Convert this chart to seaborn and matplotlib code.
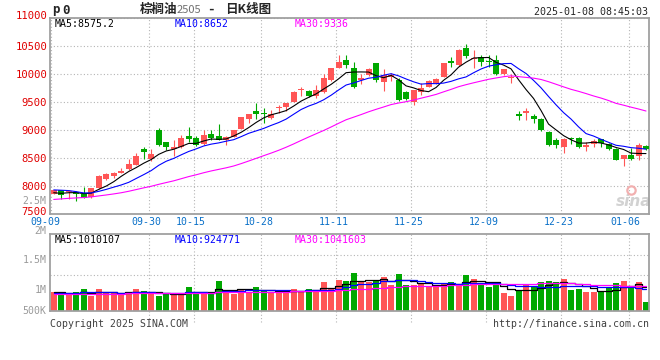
import numpy as np
import pandas as pd
import matplotlib
matplotlib.use('Agg')
import matplotlib.pyplot as plt
import matplotlib.transforms as mtransforms
import seaborn as sns

# daily OHLC, 2024-09-09 .. 2025-01-08 (80 trading days)
opens = [7860, 7925, 7890, 7895, 7850, 7795, 7960, 8120, 8170, 8240,
         8300, 8375, 8655, 8490, 9000, 8780, 8660, 8690, 8890, 8860,
         8745, 8925, 8900, 8820, 8880, 9020, 9195, 9340, 9300, 9220,
         9387, 9417, 9506, 9708, 9696, 9613, 9673, 9893, 10113, 10250,
         10101, 9900, 9982, 10190, 9863, 9940, 9893, 9672, 9506, 9684,
         9774, 9833, 9952, 10232, 10160, 10458, 10270, 10310, 10240, 10250,
         9994, 9930, 9286, 9310, 9250, 9202, 8970, 8820, 8702, 8851,
         8851, 8702, 8750, 8833, 8744, 8660, 8490, 8554, 8536, 8714]
highs = [7935, 7930, 7930, 7905, 7990, 7965, 8190, 8225, 8250, 8315,
         8480, 8585, 8690, 8665, 9040, 8790, 8820, 8910, 9045, 8890,
         9000, 9000, 9105, 8885, 9005, 9240, 9290, 9490, 9385, 9355,
         9445, 9490, 9690, 9775, 9720, 9800, 9995, 10110, 10340, 10340,
         10220, 10000, 10110, 10200, 10083, 10012, 9920, 9690, 9720, 9833,
         9900, 9920, 10195, 10310, 10440, 10535, 10428, 10340, 10340, 10340,
         10090, 10000, 9345, 9400, 9286, 9215, 8980, 8851, 8850, 8870,
         8880, 8792, 8840, 8840, 8760, 8670, 8560, 8673, 8774, 8732]
lows = [7850, 7770, 7770, 7730, 7780, 7785, 7955, 8110, 8150, 8225,
        8290, 8370, 8480, 8440, 8710, 8640, 8530, 8670, 8790, 8715,
        8725, 8820, 8815, 8735, 8870, 9010, 9120, 9195, 9120, 9195,
        9310, 9340, 9500, 9615, 9595, 9580, 9665, 9880, 10100, 10100,
        9756, 9830, 9970, 9850, 9702, 9880, 9524, 9530, 9446, 9625,
        9760, 9820, 9940, 10130, 10150, 10280, 10100, 10143, 10130, 9982,
        9980, 9845, 9180, 9180, 9130, 8990, 8720, 8673, 8583, 8744,
        8673, 8631, 8700, 8690, 8650, 8460, 8360, 8470, 8464, 8643]
closes = [7920, 7845, 7915, 7850, 7790, 7960, 8185, 8210, 8240, 8270,
          8390, 8535, 8600, 8570, 8730, 8690, 8690, 8850, 8840, 8735,
          8905, 8865, 8820, 8875, 9000, 9235, 9285, 9280, 9280, 9280,
          9405, 9488, 9684, 9726, 9613, 9714, 9923, 10100, 10220, 10160,
          9774, 9930, 10089, 9893, 9982, 9982, 9535, 9547, 9714, 9744,
          9881, 9910, 10190, 10202, 10428, 10327, 10280, 10220, 10220, 9994,
          10083, 9940, 9250, 9345, 9202, 9000, 8732, 8732, 8833, 8833,
          8702, 8732, 8810, 8762, 8667, 8470, 8555, 8482, 8730, 8660]
# volume in thousands
vol_k = [972, 927, 927, 961, 1017, 903, 1017, 944, 944, 935,
         966, 1017, 983, 944, 898, 927, 944, 944, 1057, 944,
         944, 972, 1153, 1000, 927, 1017, 971, 1051, 1000, 961,
         961, 961, 1017, 983, 1017, 1000, 1130, 1039, 1169, 1153,
         1294, 1130, 1141, 1169, 1220, 1085, 1270, 1085, 1085, 1100,
         1057, 1057, 1124, 1135, 1096, 1254, 1186, 1085, 1051, 1085,
         949, 898, 1000, 1100, 1057, 1135, 1153, 1135, 1186, 1000,
         1017, 966, 966, 966, 1030, 1113, 1153, 1068, 1136, 797]
# estimated closes / volumes before the window (only feed the moving averages)
prev_closes = [7560, 7600, 7640, 7580, 7620, 7660, 7700, 7680, 7640, 7600,
               7620, 7680, 7720, 7700, 7740, 7760, 7720, 7700, 7760, 7820,
               7900, 7980, 8040, 8020, 7960, 7900, 7860, 7840, 7880]
prev_vol_k = [900, 950, 880, 920, 970, 910, 890, 940, 960, 900,
              930, 880, 920, 950, 910, 900, 940, 970, 920, 860,
              930, 950, 920, 940, 910, 970, 960, 980, 970]

holidays = ['2024-09-16', '2024-09-17', '2024-10-01', '2024-10-02', '2024-10-03',
            '2024-10-04', '2024-10-07', '2025-01-01']
tick_dates = ['09-09', '09-30', '10-15', '10-28', '11-11', '11-25', '12-09', '12-23', '01-06']
price_ticks = [7500, 8000, 8500, 9000, 9500, 10000, 10500, 11000]

days = [d for d in pd.bdate_range('2024-09-09', '2025-01-08') if d.strftime('%Y-%m-%d') not in holidays]
day_labels = [d.strftime('%m-%d') for d in days]

df = pd.DataFrame({'day': np.arange(len(closes)), 'open': opens, 'high': highs,
                   'low': lows, 'close': closes, 'volume': np.array(vol_k) * 1000})
all_close = pd.Series(prev_closes + closes)
all_vol = pd.Series(prev_vol_k + vol_k) * 1000
for n in (5, 10, 30):
    df['ma%d' % n] = all_close.rolling(n).mean().iloc[len(prev_closes):].to_numpy()
    df['vma%d' % n] = all_vol.rolling(n).mean().iloc[len(prev_vol_k):].to_numpy()

RED = '#ff5656'
GREEN = '#00a800'
GRID = '#b4b4b4'
BORDER = '#a0a0a0'
MONO = 'DejaVu Sans Mono'
CJK = ['Noto Sans CJK SC', 'DejaVu Sans']

sns.set_style('white')
plt.rcParams['font.family'] = [MONO]

W, H = 660, 360
fig = plt.figure(figsize=(6.6, 3.6), dpi=100)
fig.patch.set_facecolor('white')


def fx(px):
    return px / W


def fy(py):
    return 1 - py / H


def shift(label, dx, dy):
    # move a text by pixels (dy positive = up)
    label.set_transform(label.get_transform() +
                        mtransforms.ScaledTranslation(dx / 100, dy / 100, fig.dpi_scale_trans))


ax = fig.add_axes([fx(50), fy(214), 599 / W, 196 / H])
ax2 = fig.add_axes([fx(50), fy(311), 599 / W, 77 / H])

colors = [RED if c >= o else GREEN for o, c in zip(df.open, df.close)]
tick_pos = [day_labels.index(t) - 0.3 for t in tick_dates]

# --- price panel
ax.vlines(df.day, df.low, df.high, colors=colors, lw=0.8, zorder=3)
body = np.maximum((df.close - df.open).abs(), 12)
ax.bar(df.day, body, bottom=np.minimum(df.open, df.close), width=0.8,
       color=colors, linewidth=0, zorder=4)
sns.lineplot(data=df, x='day', y='ma5', color='black', lw=0.8, ax=ax, zorder=5)
sns.lineplot(data=df, x='day', y='ma10', color='#0000ff', lw=0.8, ax=ax, zorder=5)
sns.lineplot(data=df, x='day', y='ma30', color='#ff00ff', lw=0.8, ax=ax, zorder=5)
ax.set_xlim(-0.5, 79.4)
ax.set_ylim(7500, 11000)
ax.set_yticks(price_ticks)
ax.set_yticklabels([str(v) for v in price_ticks], color='#e00000', fontsize=7.6)
ax.set_xticks(tick_pos)
ax.set_xticklabels(tick_dates, color='#0a70c8', fontsize=7.1)
ax.tick_params(length=0, pad=2)
ax.set_xlabel('')
ax.set_ylabel('')
ax.grid(True, ls=(0, (1, 2)), color=GRID, lw=0.8)
ax.set_axisbelow(True)
for s in ax.spines.values():
    s.set_color(BORDER)
    s.set_linewidth(1.3)

ylabs = ax.get_yticklabels()
shift(ylabs[0], 0, 3)
shift(ylabs[-1], 0, 3)
xlabs = ax.get_xticklabels()
for i, lab in enumerate(xlabs):
    shift(lab, -6 if i == 0 else -3, 0)

ax.text(fx(55), fy(24), 'MA5:8575.2', transform=fig.transFigure, fontsize=7.1,
        color='black', va='center')
ax.text(fx(175), fy(24), 'MA10:8652', transform=fig.transFigure, fontsize=7.1,
        color='#0000ff', va='center')
ax.text(fx(295), fy(24), 'MA30:9336', transform=fig.transFigure, fontsize=7.1,
        color='#ff00ff', va='center')

# watermark
ax.text(fx(634), fy(201), 'sina', transform=fig.transFigure, fontsize=11,
        family='DejaVu Sans', style='italic', weight='bold', color='#d2d2d2',
        ha='center', va='center', zorder=1)
ax.plot([fx(631)], [fy(190)], 'o', ms=6, mfc='none', mec='#f2b0b0', mew=1.6,
        transform=fig.transFigure, clip_on=False, zorder=1)

# --- volume panel
ax2.bar(df.day, df.volume, width=0.8, color=colors, linewidth=0, zorder=2)
sns.lineplot(data=df, x='day', y='vma5', color='black', lw=0.9, ax=ax2,
             drawstyle='steps-mid', zorder=3)
sns.lineplot(data=df, x='day', y='vma10', color='#0000ff', lw=0.9, ax=ax2,
             drawstyle='steps-mid', zorder=3)
sns.lineplot(data=df, x='day', y='vma30', color='#ff00ff', lw=0.9, ax=ax2,
             drawstyle='steps-mid', zorder=3)
ax2.set_xlim(-0.5, 79.4)
ax2.set_ylim(644000, 1949000)
ax2.set_xticks([])
ax2.set_yticks([])
ax2.set_xlabel('')
ax2.set_ylabel('')
for s in ax2.spines.values():
    s.set_color(BORDER)
    s.set_linewidth(1.3)
for f in (0.727, 0.468):
    ax2.plot([0, 1], [f, f], transform=ax2.transAxes, ls=(0, (1, 2)),
             color=GRID, lw=0.8, zorder=1)
for p in tick_pos[1:]:
    ax2.plot([p, p], [-0.14, 1], transform=ax2.get_xaxis_transform(),
             ls=(0, (1, 2)), color=GRID, lw=0.8, zorder=1, clip_on=False)

vol_labels = [(2500000, '2.5M'), (2000000, '2M'), (1500000, '1.5M'),
              (1000000, '1M'), (644000, '500K')]
for v, lab in vol_labels:
    ax2.text(-0.006, v, lab, transform=ax2.get_yaxis_transform(), ha='right',
             va='center', fontsize=7.1, color='#9a9a9a', clip_on=False)

ax2.text(fx(55), fy(240), 'MA5:1010107', transform=fig.transFigure, fontsize=7.1,
         color='black', va='center')
ax2.text(fx(175), fy(240), 'MA10:924771', transform=fig.transFigure, fontsize=7.1,
         color='#0000ff', va='center')
ax2.text(fx(295), fy(240), 'MA30:1041603', transform=fig.transFigure, fontsize=7.1,
         color='#ff00ff', va='center')

# --- header / footer
fig.text(fx(52), fy(10), 'p', fontsize=9, weight='bold', va='center')
fig.text(fx(62), fy(10), '0', fontsize=9, weight='bold', va='center')
fig.text(fx(140), fy(9), '棕榈油', family=CJK, fontsize=9, weight='bold', va='center')
fig.text(fx(177), fy(10), '2505', family=CJK, fontsize=8, color='#707070', va='center')
fig.text(fx(207), fy(9), '-', fontsize=9, weight='bold', va='center')
fig.text(fx(225), fy(9), '日K线图', family=CJK, fontsize=9, weight='bold', va='center')
fig.text(fx(648), fy(12), '2025-01-08 08:45:03', fontsize=7.2, ha='right', va='center')
fig.text(fx(50), fy(324), 'Copyright 2025 SINA.COM', fontsize=7.1, color='#404040', va='center')
fig.text(fx(649), fy(324), 'http://finance.sina.com.cn', fontsize=7.1, color='#404040',
         ha='right', va='center')

fig.savefig('out.png', dpi=100)
